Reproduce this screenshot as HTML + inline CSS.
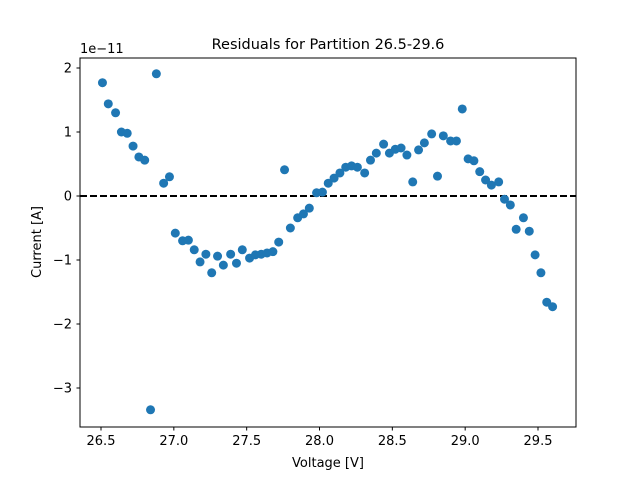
<!DOCTYPE html>
<html><head><meta charset="utf-8"><style>
body{margin:0;background:#fff;}
svg{display:block;font-family:"DejaVu Sans","Liberation Sans",sans-serif;}
</style></head><body>
<svg id="chart" width="640" height="480" viewBox="0 0 640 480">
<rect width="640" height="480" fill="#fff"/>
<text x="328" y="49" font-size="14.5" text-anchor="middle">Residuals for Partition 26.5-29.6</text>
<text x="80" y="53" font-size="13">1e−11</text>
<text x="328" y="467" font-size="13" text-anchor="middle">Voltage [V]</text>
<text transform="translate(41,242) rotate(-90)" font-size="13" text-anchor="middle">Current [A]</text>
<g id="ticks"></g>
<line id="zero" stroke="#000" stroke-width="2" stroke-dasharray="7,3"/>
<g id="points"></g>
<rect x="80" y="58" width="496" height="369" fill="none" stroke="#000" stroke-width="1"/>
</svg>
<script>
const voltages=[26.51,26.55,26.60,26.64,26.68,26.72,26.76,26.80,26.84,26.88,26.93,26.97,27.01,27.06,27.10,27.14,27.18,27.22,27.26,27.30,27.34,27.39,27.43,27.47,27.52,27.56,27.60,27.64,27.68,27.72,27.76,27.80,27.85,27.89,27.93,27.98,28.02,28.06,28.10,28.14,28.18,28.22,28.26,28.31,28.35,28.39,28.44,28.48,28.52,28.56,28.60,28.64,28.68,28.72,28.77,28.81,28.85,28.90,28.94,28.98,29.02,29.06,29.10,29.14,29.18,29.23,29.27,29.31,29.35,29.40,29.44,29.48,29.52,29.56,29.60];
const residuals=[1.77,1.44,1.30,1.00,0.98,0.78,0.61,0.56,-3.34,1.91,0.20,0.30,-0.58,-0.70,-0.69,-0.84,-1.03,-0.91,-1.20,-0.94,-1.08,-0.91,-1.05,-0.84,-0.97,-0.92,-0.91,-0.89,-0.87,-0.72,0.41,-0.50,-0.34,-0.28,-0.19,0.05,0.06,0.20,0.28,0.36,0.45,0.47,0.45,0.36,0.56,0.67,0.81,0.67,0.73,0.75,0.64,0.22,0.72,0.83,0.97,0.31,0.94,0.86,0.86,1.36,0.58,0.55,0.38,0.25,0.17,0.22,-0.05,-0.14,-0.52,-0.34,-0.55,-0.92,-1.20,-1.66,-1.73];
const xTicks=[26.5,27.0,27.5,28.0,28.5,29.0,29.5];
const xTickLabels=["26.5","27.0","27.5","28.0","28.5","29.0","29.5"];
const yTicks=[-3,-2,-1,0,1,2];
const yTickLabels=["−3","−2","−1","0","1","2"];
const xScale=v=>101+(v-26.5)*145.67;
const yScale=v=>196-v*64;
const NS="http://www.w3.org/2000/svg";
const tg=document.getElementById('ticks');
xTicks.forEach((t,i)=>{
  const x=xScale(t);
  const l=document.createElementNS(NS,'line');
  
  
  l.setAttribute('x1',x);l.setAttribute('x2',x);l.setAttribute('y1',427);l.setAttribute('y2',430.5);l.setAttribute('stroke','#000');
  tg.appendChild(l);
  const tx=document.createElementNS(NS,'text');
  
  
  tx.setAttribute('x',x);tx.setAttribute('y',445);tx.setAttribute('font-size','13');tx.setAttribute('text-anchor','middle');
  tx.textContent=xTickLabels[i];tg.appendChild(tx);
});
yTicks.forEach((t,i)=>{
  const y=yScale(t);
  const l=document.createElementNS(NS,'line');
  
  
  l.setAttribute('x1',76.5);l.setAttribute('x2',80);l.setAttribute('y1',y);l.setAttribute('y2',y);l.setAttribute('stroke','#000');
  tg.appendChild(l);
  const tx=document.createElementNS(NS,'text');
  
  
  tx.setAttribute('x',72);tx.setAttribute('y',y+4.5);tx.setAttribute('font-size','13');tx.setAttribute('text-anchor','end');
  tx.textContent=yTickLabels[i];tg.appendChild(tx);
});
const z=document.getElementById('zero');
z.setAttribute('x1',80);z.setAttribute('x2',576);z.setAttribute('y1',yScale(0));z.setAttribute('y2',yScale(0));
const pg=document.getElementById('points');
voltages.forEach((v,i)=>{
  const c=document.createElementNS(NS,'circle');
  
  
  c.setAttribute('cx',xScale(v));c.setAttribute('cy',yScale(residuals[i]));c.setAttribute('r',4.5);c.setAttribute('fill','#1f77b4');
  pg.appendChild(c);
});
</script>
</body></html>
